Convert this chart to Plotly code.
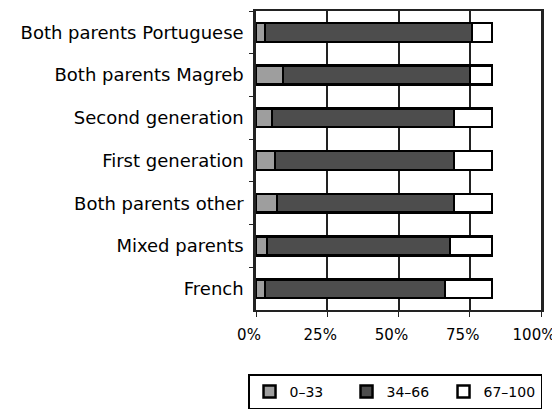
import plotly.graph_objects as go

categories = ["Both parents Portuguese", "Both parents Magreb", "Second generation",
              "First generation", "Both parents other", "Mixed parents", "French"]
low = [3.2, 9.5, 5.6, 6.7, 7.4, 3.9, 3.2]
mid = [72.6, 65.6, 63.9, 62.8, 62.1, 64.2, 63.1]
high = [7.0, 7.7, 13.3, 13.3, 13.3, 14.7, 16.5]
series_names = ["0–33", "34–66", "67–100"]
tick_vals = [0, 25, 50, 75, 100]
tick_text = ["0%", "25%", "50%", "75%", "100%"]

colors = ["#9e9e9e", "#4d4d4d", "#ffffff"]
font_family = "DejaVu Sans"

fig = go.Figure()
for name, vals, col in zip(series_names, [low, mid, high], colors):
    fig.add_trace(go.Bar(
        y=categories, x=vals, name=name, orientation="h",
        width=0.44,
        marker=dict(color=col, line=dict(color="black", width=2.5)),
    ))

fig.update_layout(
    width=552, height=402,
    barmode="stack",
    margin=dict(l=248, r=19, t=1, b=97),
    paper_bgcolor="white", plot_bgcolor="white",
    font=dict(family=font_family, color="black", size=14),
    legend=dict(orientation="h", x=-0.028, y=-0.215, xanchor="left", yanchor="top",
                bordercolor="black", borderwidth=1.5, font=dict(size=14),
                entrywidth=52, entrywidthmode="pixels",
                traceorder="normal"),
    showlegend=True,
)
fig.update_xaxes(range=[0, 100], tickvals=tick_vals, ticktext=tick_text,
                 showgrid=True, gridcolor="#222222", gridwidth=1.5,
                 showline=True, linecolor="#222222", linewidth=2, mirror=True,
                 ticks="outside", ticklen=5, tickcolor="#222222",
                 tickfont=dict(size=15), zeroline=False, ticklabelstandoff=5,
                 ticklabelshift=-7, ticklabeloverflow="allow")
fig.update_yaxes(autorange="reversed", showline=True, linecolor="#222222", linewidth=2.5,
                 mirror=True, ticks="outside", ticklen=4, tickson="boundaries",
                 tickcolor="#222222", tickfont=dict(size=18), ticklabelstandoff=6)

fig.write_html("out.html")
